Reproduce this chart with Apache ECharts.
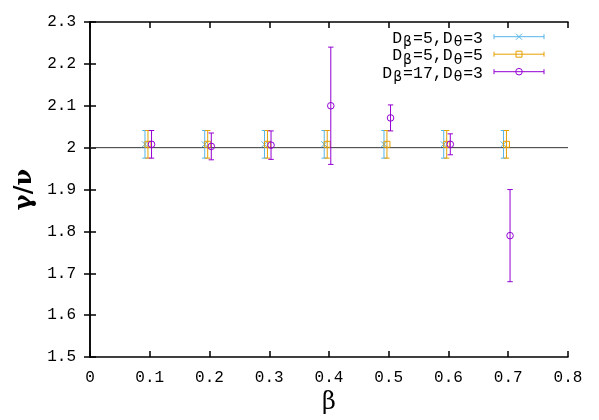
<!DOCTYPE html>
<html><head><meta charset="utf-8">
<script src="https://cdn.jsdelivr.net/npm/echarts@6/dist/echarts.min.js"></script>
<style>html,body{margin:0;padding:0;background:#fff}#c{width:599px;height:420px}</style>
</head><body><div id="c"></div>
<script>
// ---- data ----
var seriesNames = ['D_β=5,D_θ=3', 'D_β=5,D_θ=5', 'D_β=17,D_θ=3'];
var xBlue   = [0.092, 0.192, 0.292, 0.392, 0.492, 0.592, 0.692];
var yBlue   = [2.008, 2.008, 2.008, 2.008, 2.008, 2.008, 2.008];
var eBlue   = [0.033, 0.033, 0.033, 0.033, 0.033, 0.033, 0.033];
var xOrange = [0.097, 0.197, 0.297, 0.397, 0.497, 0.597, 0.697];
var yOrange = [2.008, 2.008, 2.008, 2.008, 2.008, 2.008, 2.008];
var eOrange = [0.033, 0.033, 0.033, 0.033, 0.033, 0.033, 0.033];
var xPurple = [0.103, 0.203, 0.303, 0.403, 0.503, 0.603, 0.703];
var yPurple = [2.008, 2.003, 2.006, 2.100, 2.071, 2.008, 1.790];
var ePurple = [0.033, 0.032, 0.034, 0.140, 0.031, 0.025, 0.110];
var xTicks = [0, 0.1, 0.2, 0.3, 0.4, 0.5, 0.6, 0.7, 0.8];
var yTicks = [1.5, 1.6, 1.7, 1.8, 1.9, 2.0, 2.1, 2.2, 2.3];
var refLine = 2.0;

var colors = ['#56b4e9', '#e69f00', '#9400d3'];
var markers = ['cross', 'square', 'circle'];

function build(xs, ys, es) {
  return xs.map(function (x, i) { return [x, ys[i], ys[i] - es[i], ys[i] + es[i]]; });
}
var sets = [build(xBlue, yBlue, eBlue), build(xOrange, yOrange, eOrange), build(xPurple, yPurple, ePurple)];

function markerGroup(kind, cx, cy, color) {
  var r = 3, st = { stroke: color, lineWidth: 1, fill: null };
  if (kind === 'cross') {
    return [
      { type: 'line', shape: { x1: cx - r, y1: cy - r, x2: cx + r, y2: cy + r }, style: st },
      { type: 'line', shape: { x1: cx - r, y1: cy + r, x2: cx + r, y2: cy - r }, style: st }
    ];
  }
  if (kind === 'square') {
    return [{ type: 'rect', shape: { x: cx - r, y: cy - r, width: 2 * r, height: 2 * r }, style: st }];
  }
  return [{ type: 'circle', shape: { cx: cx, cy: cy, r: r + 0.3 }, style: st }];
}

function makeRender(idx) {
  return function (params, api) {
    var c = api.coord([api.value(0), api.value(1)]);
    var lo = api.coord([api.value(0), api.value(2)]);
    var hi = api.coord([api.value(0), api.value(3)]);
    var col = colors[idx], w = 2.7;
    var st = { stroke: col, lineWidth: 1 };
    var ch = [
      { type: 'line', shape: { x1: c[0], y1: lo[1], x2: c[0], y2: hi[1] }, style: st },
      { type: 'line', shape: { x1: c[0] - w, y1: lo[1], x2: c[0] + w, y2: lo[1] }, style: st },
      { type: 'line', shape: { x1: c[0] - w, y1: hi[1], x2: c[0] + w, y2: hi[1] }, style: st }
    ];
    ch = ch.concat(markerGroup(markers[idx], c[0], c[1], col));
    return { type: 'group', children: ch };
  };
}

var series = sets.map(function (d, i) {
  return {
    type: 'custom', name: seriesNames[i], data: d, renderItem: makeRender(i),
    encode: { x: 0, y: [1, 2, 3] }, z: 3 + i, clip: false
  };
});
series.push({
  type: 'line', data: [[xTicks[0], refLine], [xTicks[xTicks.length - 1], refLine]],
  symbol: 'none', lineStyle: { color: '#333', width: 1 }, z: 1, silent: true
});

var tickFont = { fontFamily: 'Liberation Mono', fontSize: 16, color: '#000' };
var axisLine = { show: true, lineStyle: { color: '#000', width: 1.5 } };
var tick = { inside: true, length: 6, lineStyle: { color: '#000', width: 1.5 } };

// legend via graphics
var legendGraphics = [];
var rowY0 = 36.7, rowGap = 17.5, textRight = 483, sx0 = 494, sx1 = 544;
function richName(n) {
  var parts = n.split(/_(.)/);
  var s = '';
  for (var k = 0; k < parts.length; k++) {
    if (!parts[k]) continue;
    s += (k % 2 === 1 ? '{s|' : '{n|') + parts[k] + '}';
  }
  return s;
}
seriesNames.forEach(function (n, i) {
  var y = rowY0 + i * rowGap, col = colors[i];
  legendGraphics.push({
    type: 'text', right: 599 - textRight, top: y - 10,
    style: {
      text: richName(n), align: 'right',
      rich: {
        n: { fontFamily: 'Liberation Mono', fontSize: 16.5, fill: '#000', lineHeight: 22 },
        s: { fontFamily: 'DejaVu Sans', fontSize: 14, fill: '#000', padding: [9, 1, 0, 1], lineHeight: 22 }
      }
    }
  });
  var st = { stroke: col, lineWidth: 1 };
  legendGraphics.push({ type: 'line', shape: { x1: sx0, y1: y, x2: sx1, y2: y }, style: st });
  legendGraphics.push({ type: 'line', shape: { x1: sx0, y1: y - 2.5, x2: sx0, y2: y + 2.5 }, style: st });
  legendGraphics.push({ type: 'line', shape: { x1: sx1, y1: y - 2.5, x2: sx1, y2: y + 2.5 }, style: st });
  markerGroup(markers[i], (sx0 + sx1) / 2, y, col).forEach(function (g) { legendGraphics.push(g); });
});

var chart = echarts.init(document.getElementById('c'));
chart.setOption({
  animation: false,
  backgroundColor: '#fff',
  grid: { left: 90, right: 31, top: 22, bottom: 59, show: false },
  xAxis: [
    { type: 'value', min: 0, max: 0.8, interval: 0.1, position: 'bottom',
      axisLine: axisLine, axisTick: tick,
      axisLabel: Object.assign({ margin: 13 }, tickFont), splitLine: { show: false },
      name: 'β', nameLocation: 'middle', nameGap: 31,
      nameTextStyle: { fontFamily: 'DejaVu Serif', fontSize: 24, color: '#000' } },
    { type: 'value', min: 0, max: 0.8, interval: 0.1, position: 'top',
      axisLine: axisLine, axisTick: tick,
      axisLabel: { show: false }, splitLine: { show: false } }
  ],
  yAxis: [
    { type: 'value', min: 1.5, max: 2.3, interval: 0.1, position: 'left',
      axisLine: axisLine, axisTick: tick,
      axisLabel: Object.assign({ margin: 14 }, tickFont), splitLine: { show: false },
      name: 'γ/ν', nameLocation: 'middle', nameGap: 52, nameRotate: 90,
      nameTextStyle: { fontFamily: 'DejaVu Serif', fontSize: 24, fontWeight: 'bold', color: '#000' } },
    { type: 'value', min: 1.5, max: 2.3, interval: 0.1, position: 'right',
      axisLine: axisLine, axisTick: tick,
      axisLabel: { show: false }, splitLine: { show: false } }
  ],
  graphic: legendGraphics,
  series: series
});
</script></body></html>
